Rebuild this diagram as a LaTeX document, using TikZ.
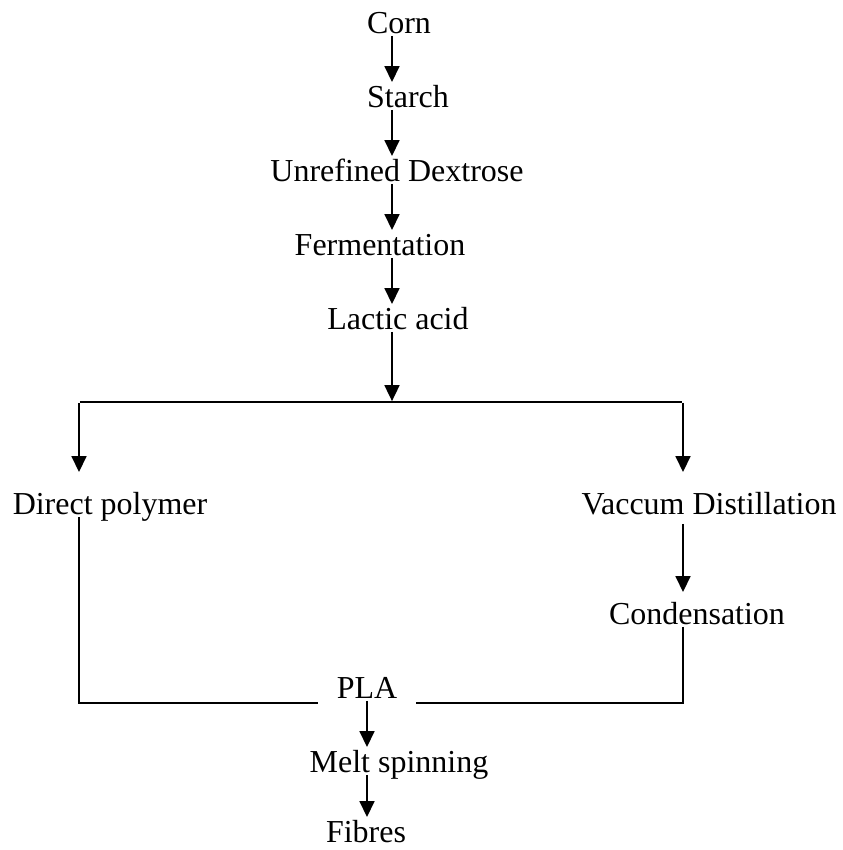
\documentclass[tikz,border=0pt]{standalone}
\usepackage{fontspec}
\setmainfont{Liberation Serif}
\usepackage{tikz}
\usetikzlibrary{arrows.meta}
\tikzstyle{stepbox} = [rectangle, inner xsep=0pt, inner ysep=1.1pt, text height=12.7pt, text depth=0pt, font=\fontsize{18.2}{22}\selectfont]
\tikzstyle{blank} = [inner sep=0,outer sep=0]
\tikzstyle{line} = [draw,->,>={Triangle[length=0.32cm,width=0.3cm]}]
\tikzstyle{wire} = [draw]

\begin{document}
\begin{tikzpicture}[node distance=1.48cm, line width=1pt, auto]
\useasboundingbox (0,0) rectangle (16.86,-17);

\node [stepbox] at (7.98,-0.44) (corn) {Corn};
\node [stepbox, below of=corn, xshift=0.18cm] (starch) {Starch};
\node [stepbox, below of=starch, xshift=-0.22cm] (dextrose) {Unrefined Dextrose};
\node [stepbox, below of=dextrose, xshift=-0.34cm] (ferment) {Fermentation};
\node [stepbox, below of=ferment, xshift=0.36cm] (lactic) {Lactic acid};

\node [blank, below of=lactic, xshift=-0.12cm, yshift=-0.2cm] (split) {};
\node [blank, left of=split, xshift=-4.78cm] (lsplit) {};
\node [blank, right of=split, xshift=4.34cm] (rsplit) {};

\node [stepbox, below of=lactic, xshift=-5.76cm, yshift=-2.22cm] (direct) {Direct polymer};
\node [stepbox, right of=direct, xshift=10.5cm] (vacuum) {Vaccum Distillation};
\node [stepbox, below of=vacuum, xshift=-0.24cm, yshift=-0.72cm] (cond) {Condensation};

\node [stepbox, inner xsep=0.36cm, below of=cond, xshift=-6.6cm] (pla) {PLA};
\node [stepbox, below of=pla, xshift=0.64cm] (melt) {Melt spinning};
\node [stepbox, below of=melt, xshift=-0.66cm, yshift=0.08cm] (fibres) {Fibres};

\path [line] (corn.south -| split) -- (starch.north -| split);
\path [line] (starch.south -| split) -- (dextrose.north -| split);
\path [line] (dextrose.south -| split) -- (ferment.north -| split);
\path [line] (ferment.south -| split) -- (lactic.north -| split);
\path [line] (lactic.south -| split) -- (split);

\path [wire] (lsplit) -- (rsplit);
\path [line] (lsplit) -- ([yshift=0.34cm]direct.north -| lsplit);
\path [line] (rsplit) -- ([yshift=0.34cm]vacuum.north -| rsplit);
\path [line, shorten <=0.14cm, shorten >=0.14cm] (vacuum.south -| rsplit) -- (cond.north -| rsplit);

\path [wire] (direct.south -| lsplit) |- ([yshift=-0.1cm]pla.base west);
\path [wire] (cond.south -| rsplit) |- ([yshift=-0.1cm]pla.base east);

\path [line] (pla.south) -- (melt.north -| pla);
\path [line] (melt.south -| pla) -- (fibres.north -| pla);

\end{tikzpicture}
\end{document}
